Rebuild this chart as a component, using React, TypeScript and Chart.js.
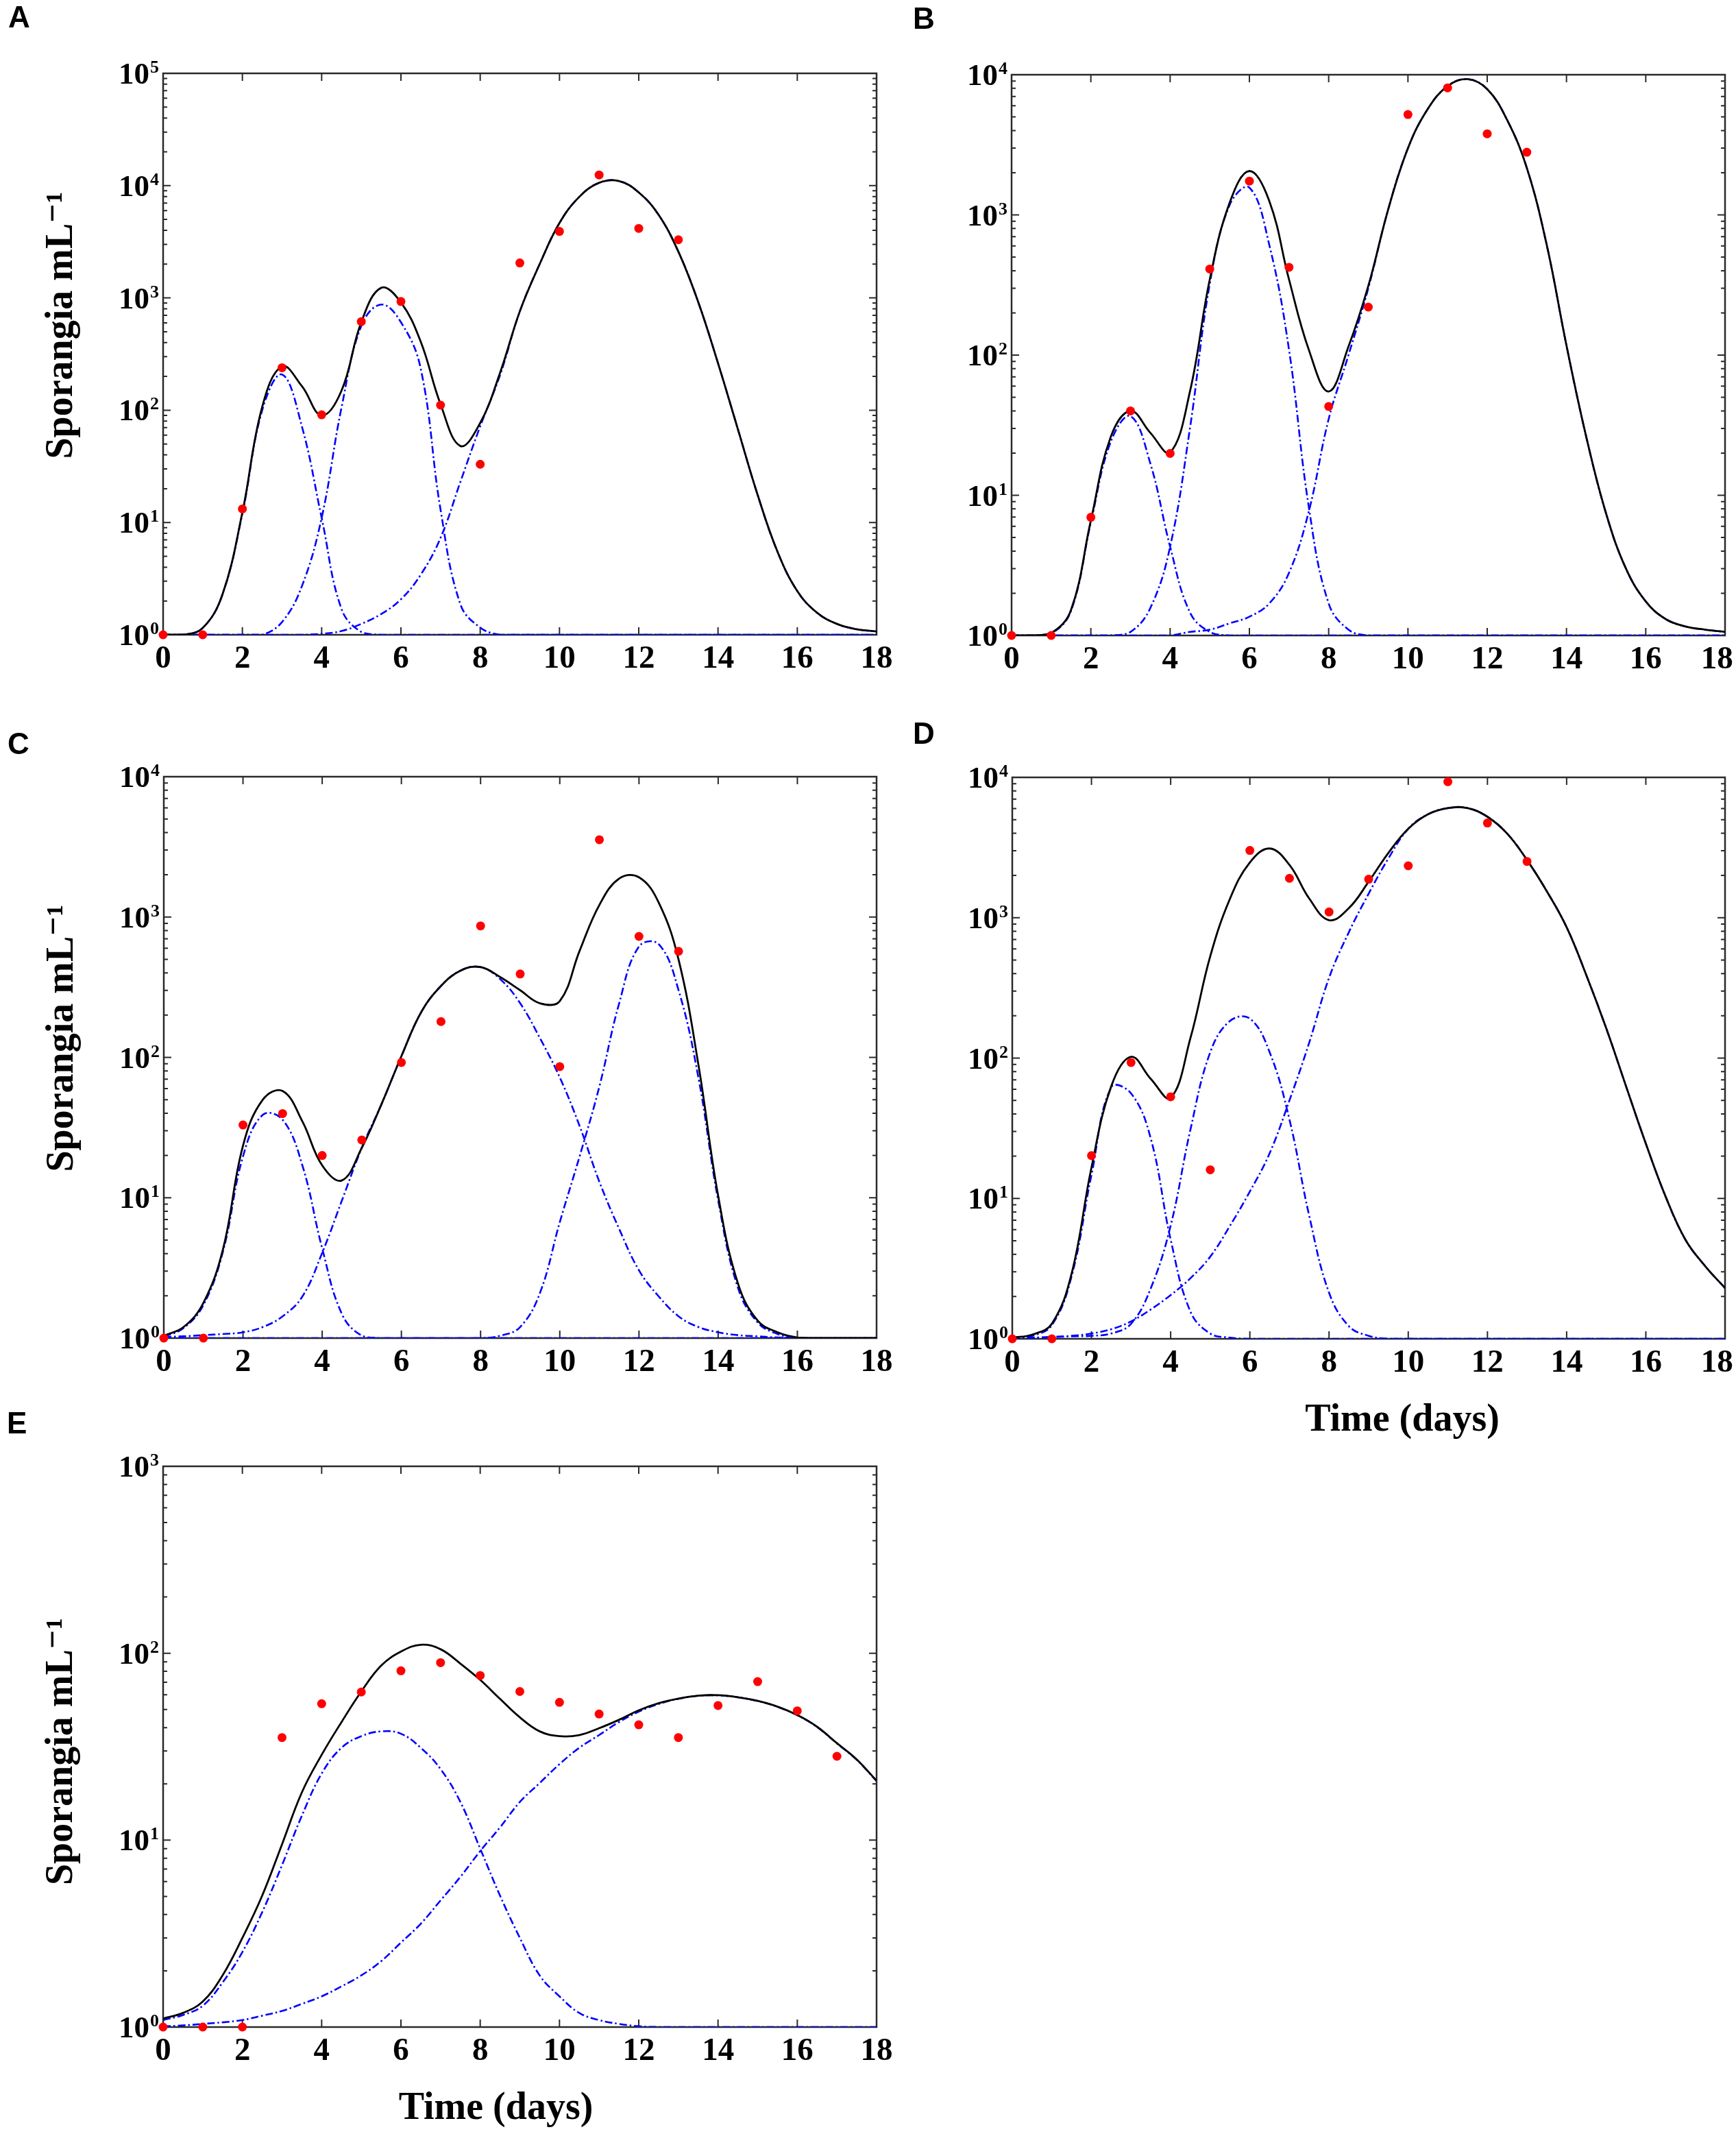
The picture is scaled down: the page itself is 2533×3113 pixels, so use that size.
import React, { useEffect, useRef } from 'react';
import { Chart, registerables } from 'chart.js';

Chart.register(...registerables);

// ---------- shared axes ----------
const xTicks = [0, 2, 4, 6, 8, 10, 12, 14, 16, 18];
const fitT = [0, 0.5, 1, 1.5, 2, 2.5, 3, 3.5, 4, 4.5, 5, 5.5, 6, 6.5, 7, 7.5, 8, 8.5, 9, 9.5, 10, 10.5, 11, 11.5, 12, 12.5, 13, 13.5, 14, 14.5, 15, 15.5, 16, 16.5, 17, 17.5, 18];
const yTitle = 'Sporangia mL⁻¹';
const xTitle = 'Time (days)';

// ---------- panel A ----------
const A_days = [0, 1, 2, 3, 4, 5, 6, 7, 8, 9, 10, 11, 12, 13];
const A_obs = [1, 1, 13.2, 239, 91, 615, 929, 111, 33, 2048, 3910, 12450, 4160, 3296];
const A_fit = [1, 1, 1.15, 2.3, 12.3, 107, 246, 164, 90, 149, 608, 1230, 912, 407, 113, 48, 77, 215, 760, 2000, 4650, 7950, 10600, 11000, 8700, 5500, 2580, 920, 262, 68, 17.6, 5.5, 2.45, 1.57, 1.25, 1.12, 1.07];
const A_c1 = [1, 1, 1.15, 2.3, 12, 100, 208, 72, 11, 1.7, 1.06, 1, 1, 1, 1, 1, 1, 1, 1, 1, 1, 1, 1, 1, 1, 1, 1, 1, 1, 1, 1, 1, 1, 1, 1, 1, 1];
const A_c2 = [1, 1, 1, 1, 1, 1, 1.3, 2.7, 11, 105, 564, 873, 608, 234, 13, 1.87, 1.16, 1, 1, 1, 1, 1, 1, 1, 1, 1, 1, 1, 1, 1, 1, 1, 1, 1, 1, 1, 1];
const A_c3 = [1, 1, 1, 1, 1, 1, 1, 1, 1.02, 1.08, 1.25, 1.53, 2.07, 3.43, 7.3, 23, 72, 205, 760, 2000, 4650, 7950, 10600, 11000, 8700, 5500, 2580, 920, 262, 68, 17.6, 5.5, 2.45, 1.57, 1.25, 1.12, 1.07];

// ---------- panel B ----------
const B_days = [0, 1, 2, 3, 4, 5, 6, 7, 8, 9, 10, 11, 12, 13];
const B_obs = [1, 1, 6.97, 40, 19.9, 411, 1742, 423, 43, 220, 5200, 8060, 3790, 2800];
const B_fit = [1, 1, 1.04, 1.52, 6.6, 26, 40, 27.9, 20.2, 55, 346, 1217, 2056, 1260, 346, 109, 55, 115, 311, 1090, 2990, 5700, 8300, 9300, 7890, 4770, 2160, 614, 117, 26, 7.4, 3.0, 1.75, 1.31, 1.16, 1.1, 1.06];
const B_c1 = [1, 1, 1.03, 1.5, 6.4, 24, 36.7, 16.9, 4.3, 1.46, 1.06, 1, 1, 1, 1, 1, 1, 1, 1, 1, 1, 1, 1, 1, 1, 1, 1, 1, 1, 1, 1, 1, 1, 1, 1, 1, 1];
const B_c2 = [1, 1, 1, 1, 1, 1, 1.06, 1.57, 4.3, 30, 322, 1175, 1565, 614, 109, 8.2, 1.69, 1.1, 1, 1, 1, 1, 1, 1, 1, 1, 1, 1, 1, 1, 1, 1, 1, 1, 1, 1, 1];
const B_c3 = [1, 1, 1, 1, 1, 1, 1, 1, 1, 1.06, 1.1, 1.22, 1.36, 1.69, 2.8, 7.7, 35, 100, 300, 1090, 2990, 5700, 8300, 9300, 7890, 4770, 2160, 614, 117, 26, 7.4, 3.0, 1.75, 1.31, 1.16, 1.1, 1.06];

// ---------- panel C ----------
const C_days = [0, 1, 2, 3, 4, 5, 6, 7, 8, 9, 10, 11, 12, 13];
const C_obs = [1, 1, 33, 39.8, 20, 25.8, 92, 180, 865, 393, 86, 3557, 728, 570];
const C_fit = [1.04, 1.2, 1.78, 4.36, 23.5, 50, 57.6, 35, 17, 13.3, 22.7, 46.6, 102, 210, 323, 416, 440, 373, 301, 243, 252, 574, 1220, 1878, 1920, 1265, 497, 89, 10.3, 2.45, 1.33, 1.1, 1.01, 1, 1, 1, 1];
const C_c1 = [1.02, 1.18, 1.72, 4.2, 19.7, 39, 36, 17, 4.36, 1.48, 1.04, 1, 1, 1, 1, 1, 1, 1, 1, 1, 1, 1, 1, 1, 1, 1, 1, 1, 1, 1, 1, 1, 1, 1, 1, 1, 1];
const C_c2 = [1.02, 1.03, 1.05, 1.07, 1.1, 1.2, 1.43, 1.98, 4.05, 9.6, 22.7, 46.6, 102, 210, 323, 416, 440, 360, 243, 137, 72, 32.5, 13, 6.0, 3.04, 1.98, 1.43, 1.2, 1.1, 1.05, 1.03, 1.01, 1, 1, 1, 1, 1];
const C_c3 = [1, 1, 1, 1, 1, 1, 1, 1, 1, 1, 1, 1, 1, 1, 1, 1, 1, 1.04, 1.2, 2.1, 6.7, 19.7, 62, 243, 617, 640, 301, 72, 9.6, 2.28, 1.29, 1.07, 1, 1, 1, 1, 1];

// ---------- panel D ----------
const D_days = [0, 1, 2, 3, 4, 5, 6, 7, 8, 9, 10, 11, 12, 13];
const D_obs = [1, 1, 20.2, 93, 53, 16.0, 3016, 1909, 1099, 1880, 2344, 9310, 4730, 2517];
const D_fit = [1.02, 1.07, 1.28, 2.92, 16.6, 63, 102, 71, 52, 139, 532, 1371, 2476, 3113, 2380, 1371, 961, 1170, 1806, 2900, 4300, 5460, 6040, 6040, 5240, 3970, 2576, 1543, 855, 388, 163, 63, 24.6, 10.3, 5.08, 3.29, 2.3];
const D_c1 = [1.02, 1.05, 1.25, 2.8, 14.7, 62, 56, 26.6, 5.1, 1.56, 1.09, 1.02, 1, 1, 1, 1, 1, 1, 1, 1, 1, 1, 1, 1, 1, 1, 1, 1, 1, 1, 1, 1, 1, 1, 1, 1, 1];
const D_c2 = [1.02, 1.02, 1.03, 1.04, 1.05, 1.09, 1.28, 2.3, 6.4, 31, 110, 184, 191, 110, 36.5, 7.5, 2.13, 1.23, 1.05, 1, 1, 1, 1, 1, 1, 1, 1, 1, 1, 1, 1, 1, 1, 1, 1, 1, 1];
const D_c3 = [1.0, 1.01, 1.03, 1.05, 1.09, 1.17, 1.33, 1.62, 2.05, 2.7, 3.85, 6.4, 11.2, 21, 50, 129, 373, 789, 1484, 2650, 4300, 5460, 6040, 6040, 5240, 3970, 2576, 1543, 855, 388, 163, 63, 24.6, 10.3, 5.08, 3.29, 2.3];

// ---------- panel E ----------
const E_days = [0, 1, 2, 3, 4, 5, 6, 7, 8, 9, 10, 11, 12, 13, 14, 15, 16, 17];
const E_obs = [1, 1, 1, 35.4, 53.7, 62, 80.5, 89, 76, 62.4, 54.6, 47.3, 41.4, 35.4, 52.5, 70.5, 49.2, 28.1];
const E_fit = [1.11, 1.19, 1.37, 1.89, 3.0, 5.05, 9.5, 18, 28.6, 42.8, 62.4, 85.8, 102, 111, 105, 88, 72, 57, 45.4, 38.2, 36, 36.5, 39.7, 44, 49.5, 54, 57.2, 59.3, 59.6, 58.2, 55.6, 51.8, 46.7, 40.4, 33, 27, 20.8];
const E_c1 = [1.09, 1.16, 1.3, 1.73, 2.52, 4.12, 7.35, 13.5, 22.7, 31.2, 36, 38.2, 37.1, 31.2, 24, 16, 9.0, 5.05, 3.0, 1.89, 1.46, 1.19, 1.09, 1.04, 1.01, 1, 1, 1, 1, 1, 1, 1, 1, 1, 1, 1, 1];
const E_c2 = [1.01, 1.02, 1.04, 1.06, 1.09, 1.15, 1.22, 1.33, 1.46, 1.65, 1.89, 2.25, 2.83, 3.57, 4.76, 6.36, 8.74, 11.7, 16, 20.2, 25.5, 31.2, 36.5, 42.8, 48.7, 53.5, 57, 59.2, 59.5, 58.1, 55.5, 51.7, 46.6, 40.3, 32.9, 26.9, 20.7];

// ---------- styling / layout ----------
const SERIF = "'Liberation Serif', 'Times New Roman', 'DejaVu Serif', serif";
const SANS = "'Liberation Sans', Arial, 'DejaVu Sans', sans-serif";
const Y_BOX = 238;
const PAD_TOP = 70;

type PanelDef = {
  letter: string;
  letterPos: [number, number];
  frame: { left: number; top: number; width: number; height: number };
  rightPad: number;
  yMaxExp: number;
  days: number[];
  obs: number[];
  fit: number[];
  comps: number[][];
  yTitleShift: number; // spaces: >0 moves title up, <0 down
  xTitleShift: number; // spaces: >0 moves title right, <0 left
  showYTitle: boolean;
  showXTitle: boolean;
  lastLabelInset: boolean;
};

const panels: PanelDef[] = [
  { letter: 'A', letterPos: [12, 3], frame: { left: 238, top: 107, width: 1041, height: 819 }, rightPad: 45, yMaxExp: 5, days: A_days, obs: A_obs, fit: A_fit, comps: [A_c1, A_c2, A_c3], yTitleShift: 6, xTitleShift: 0, showYTitle: true, showXTitle: false, lastLabelInset: false },
  { letter: 'B', letterPos: [1332, 5], frame: { left: 1476, top: 109, width: 1041, height: 818 }, rightPad: 16, yMaxExp: 4, days: B_days, obs: B_obs, fit: B_fit, comps: [B_c1, B_c2, B_c3], yTitleShift: 0, xTitleShift: 0, showYTitle: false, showXTitle: false, lastLabelInset: true },
  { letter: 'C', letterPos: [11, 1063], frame: { left: 239, top: 1133, width: 1040, height: 819 }, rightPad: 45, yMaxExp: 4, days: C_days, obs: C_obs, fit: C_fit, comps: [C_c1, C_c2, C_c3], yTitleShift: 4, xTitleShift: 0, showYTitle: true, showXTitle: false, lastLabelInset: false },
  { letter: 'D', letterPos: [1332, 1048], frame: { left: 1477, top: 1134, width: 1040, height: 819 }, rightPad: 16, yMaxExp: 4, days: D_days, obs: D_obs, fit: D_fit, comps: [D_c1, D_c2, D_c3], yTitleShift: 0, xTitleShift: 7, showYTitle: false, showXTitle: true, lastLabelInset: true },
  { letter: 'E', letterPos: [10, 2054], frame: { left: 238, top: 2139, width: 1041, height: 818 }, rightPad: 45, yMaxExp: 3, days: E_days, obs: E_obs, fit: E_fit, comps: [E_c1, E_c2], yTitleShift: -1, xTitleShift: -5, showYTitle: true, showXTitle: true, lastLabelInset: false },
];

const framePlugin = {
  id: 'frameTicks',
  beforeDatasetsDraw(chart: any) {
    const { ctx, chartArea } = chart;
    const { left, right, top, bottom } = chartArea;
    const xs = chart.scales.x;
    const ys = chart.scales.y;
    ctx.save();
    ctx.strokeStyle = '#2a2a2a';
    ctx.lineWidth = 2.5;
    ctx.strokeRect(left, top, right - left, bottom - top);
    ctx.lineWidth = 2;
    ctx.beginPath();
    for (const t of xs.ticks) {
      const px = xs.getPixelForValue(t.value);
      ctx.moveTo(px, bottom);
      ctx.lineTo(px, bottom - 11);
      ctx.moveTo(px, top);
      ctx.lineTo(px, top + 11);
    }
    const maxV = ys.max;
    for (let e = 0; Math.pow(10, e) <= maxV; e++) {
      for (let k = 1; k <= 9; k++) {
        const v = k * Math.pow(10, e);
        if (v > maxV) break;
        const py = ys.getPixelForValue(v);
        const len = k === 1 ? 11 : 6;
        ctx.moveTo(left, py);
        ctx.lineTo(left + len, py);
        ctx.moveTo(right, py);
        ctx.lineTo(right - len, py);
      }
    }
    ctx.stroke();

    // y tick labels: "10" with a raised exponent, one per decade tick of the scale
    ctx.fillStyle = '#000';
    ctx.textBaseline = 'alphabetic';
    ctx.textAlign = 'left';
    for (const t of ys.ticks) {
      const py = ys.getPixelForValue(t.value);
      const exp = String(Math.round(Math.log10(t.value)));
      ctx.font = `bold 26px ${SERIF}`;
      const we = ctx.measureText(exp).width;
      ctx.font = `bold 45px ${SERIF}`;
      const wb = ctx.measureText('10').width;
      const xEnd = left - 6;
      const xb = xEnd - we - wb - 1;
      ctx.fillText('10', xb, py + 15);
      ctx.font = `bold 26px ${SERIF}`;
      ctx.fillText(exp, xb + wb + 1, py - 1);
    }
    ctx.restore();
  },
};

function padText(text: string, shift: number) {
  if (shift > 0) return ' '.repeat(shift) + text;
  if (shift < 0) return text + ' '.repeat(-shift);
  return text;
}

function Panel({ def }: { def: PanelDef }) {
  const ref = useRef<HTMLCanvasElement | null>(null);
  const xH = def.showXTitle ? 155 : 80;
  const cw = Y_BOX + def.frame.width + def.rightPad;
  const ch = PAD_TOP + def.frame.height + xH;
  const cl = def.frame.left - Y_BOX;
  const ct = def.frame.top - PAD_TOP;

  useEffect(() => {
    if (!ref.current) return;
    const yDecades: number[] = [];
    for (let e = 0; e <= def.yMaxExp; e++) yDecades.push(Math.pow(10, e));

    const toPts = (vals: number[]) => fitT.map((t, i) => ({ x: t, y: vals[i] }));

    const datasets: any[] = [
      {
        label: 'observed',
        data: def.days.map((d, i) => ({ x: d, y: def.obs[i] })),
        showLine: false,
        pointRadius: 6.5,
        pointHoverRadius: 6.5,
        pointBackgroundColor: '#ff0000',
        pointBorderColor: '#ff0000',
        pointBorderWidth: 0,
        clip: false,
        order: 0,
      },
      {
        label: 'fit',
        data: toPts(def.fit),
        borderColor: '#000000',
        borderWidth: 2.8,
        pointRadius: 0,
        tension: 0.4,
        fill: false,
        order: 1,
      },
      ...def.comps.map((c, i) => ({
        label: 'component ' + (i + 1),
        data: toPts(c),
        borderColor: '#0000ff',
        borderWidth: 2.6,
        borderDash: [11, 4, 2.5, 4],
        pointRadius: 0,
        tension: 0.4,
        fill: false,
        order: 2,
      })),
    ];

    const chart = new Chart(ref.current, {
      type: 'line',
      data: { datasets },
      plugins: [framePlugin],
      options: {
        animation: false,
        responsive: false,
        maintainAspectRatio: false,
        devicePixelRatio: 1,
        events: [],
        layout: { padding: { left: 0, top: PAD_TOP, right: def.rightPad, bottom: 0 } },
        plugins: { legend: { display: false }, tooltip: { enabled: false } },
        scales: {
          x: {
            type: 'linear',
            min: 0,
            max: 18,
            grid: { display: false, drawTicks: false },
            border: { display: false },
            afterBuildTicks: (s: any) => {
              s.ticks = xTicks.map((v) => ({ value: v }));
            },
            afterFit: (s: any) => {
              s.height = xH;
              s.paddingLeft = 0;
              s.paddingRight = 0;
            },
            ticks: {
              autoSkip: false,
              maxRotation: 0,
              padding: 8,
              color: '#000',
              font: { family: SERIF, size: 47, weight: 'bold' },
              callback: (v: any) =>
                def.lastLabelInset && Number(v) === 18 ? String(v) + '\u2002' : String(v),
            },
            title: {
              display: def.showXTitle,
              text: padText(xTitle, def.xTitleShift),
              color: '#000',
              font: { family: SERIF, size: 56, weight: 'bold' },
              padding: { top: 0, bottom: 2 },
            },
          },
          y: {
            type: 'logarithmic',
            min: 1,
            max: Math.pow(10, def.yMaxExp),
            grid: { display: false, drawTicks: false },
            border: { display: false },
            afterBuildTicks: (s: any) => {
              s.ticks = yDecades.map((v) => ({ value: v, major: true }));
            },
            afterFit: (s: any) => {
              s.width = Y_BOX;
              s.paddingTop = 0;
              s.paddingBottom = 0;
            },
            ticks: { display: false, autoSkip: false },
            title: {
              display: def.showYTitle,
              text: padText(yTitle, def.yTitleShift),
              color: '#000',
              font: { family: SERIF, size: 56, weight: 'bold' },
              padding: { top: 57, bottom: 0 },
            },
          },
        },
      } as any,
    });
    return () => chart.destroy();
  }, [def]);

  return (
    <>
      <canvas
        ref={ref}
        width={cw}
        height={ch}
        style={{ position: 'absolute', left: cl, top: ct, width: cw, height: ch }}
      />
      <div
        style={{
          position: 'absolute',
          left: def.letterPos[0],
          top: def.letterPos[1],
          font: `bold 44px ${SANS}`,
          lineHeight: '44px',
          color: '#000',
        }}
      >
        {def.letter}
      </div>
    </>
  );
}

export default function App() {
  return (
    <div
      style={{
        position: 'absolute',
        left: 0,
        top: 0,
        width: 2533,
        height: 3113,
        overflow: 'hidden',
        background: '#fff',
      }}
    >
      {panels.map((p) => (
        <Panel key={p.letter} def={p} />
      ))}
    </div>
  );
}
